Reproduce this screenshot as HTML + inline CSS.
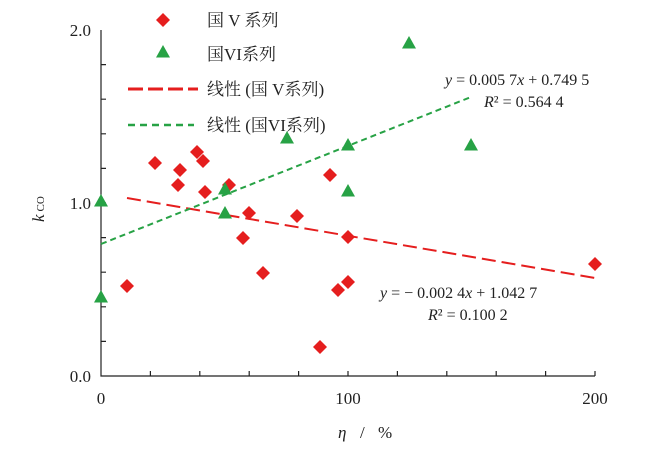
<!DOCTYPE html>
<html><head><meta charset="utf-8"><style>body{margin:0;background:#fff}svg{display:block}text{font-family:"Liberation Serif","Noto Serif CJK SC",serif;fill:#222}</style></head><body>
<svg width="656" height="451" viewBox="0 0 656 451">
<g stroke="#222" stroke-width="1.2" fill="none">
<path d="M101,30V376H595"/>
<path d="M101,64.6h5M101,99.2h5M101,133.8h5M101,168.4h5M101,203h5M101,237.6h5M101,272.2h5M101,306.8h5M101,341.4h5"/>
<path d="M150.4,376v-5M199.8,376v-5M249.2,376v-5M298.6,376v-5M348,376v-5M397.4,376v-5M446.8,376v-5M496.2,376v-5M545.6,376v-5M595,376v-5"/>
</g>
<g font-size="17">
<text x="91" y="36" text-anchor="end">2.0</text>
<text x="91" y="209" text-anchor="end">1.0</text>
<text x="91" y="382" text-anchor="end">0.0</text>
<text x="101" y="404" text-anchor="middle">0</text>
<text x="348" y="404" text-anchor="middle">100</text>
<text x="595" y="404" text-anchor="middle">200</text>
<text x="338" y="438" font-style="italic">η</text><text x="360" y="438">/</text><text x="378" y="438">%</text>
<text transform="translate(44,222) rotate(-90)"><tspan font-style="italic">k</tspan><tspan font-size="11" dx="3">CO</tspan></text>
<text x="207" y="26">国 V 系列</text>
<text x="207" y="60">国VI系列</text>
<text x="207" y="95">线性 (国 V系列)</text>
<text x="207" y="131">线性 (国VI系列)</text>
<text x="445" y="85" font-size="16"><tspan font-style="italic">y</tspan> = 0.005 7<tspan font-style="italic">x</tspan> + 0.749 5</text>
<text x="484" y="107" font-size="16"><tspan font-style="italic">R</tspan>² = 0.564 4</text>
<text x="380" y="298" font-size="16"><tspan font-style="italic">y</tspan> = − 0.002 4<tspan font-style="italic">x</tspan> + 1.042 7</text>
<text x="428" y="320" font-size="16"><tspan font-style="italic">R</tspan>² = 0.100 2</text>
</g>
<path d="M127,198L595,278" stroke="#e51e1e" stroke-width="2" stroke-dasharray="14,6"/>
<path d="M101,244L471,97" stroke="#27a245" stroke-width="2" stroke-dasharray="6,4"/>
<path d="M128,89H198" stroke="#e51e1e" stroke-width="3" stroke-dasharray="15,5"/>
<path d="M128,125H194" stroke="#27a245" stroke-width="2.5" stroke-dasharray="7,5"/>
<defs><path id="d" d="M0,-7L7,0L0,7L-7,0Z" fill="#e51e1e"/><path id="t" d="M0,-7L7,5.5L-7,5.5Z" fill="#27a245"/></defs>
<use href="#d" x="163" y="20"/><use href="#t" x="163" y="52"/>
<g>
<use href="#d" x="127" y="286"/><use href="#d" x="155" y="163"/><use href="#d" x="180" y="170"/><use href="#d" x="178" y="185"/><use href="#d" x="197" y="152"/><use href="#d" x="203" y="161"/><use href="#d" x="205" y="192"/><use href="#d" x="229" y="185"/><use href="#d" x="249" y="213"/><use href="#d" x="243" y="238"/><use href="#d" x="263" y="273"/><use href="#d" x="297" y="216"/><use href="#d" x="330" y="175"/><use href="#d" x="320" y="347"/><use href="#d" x="338" y="290"/><use href="#d" x="348" y="237"/><use href="#d" x="348" y="282"/><use href="#d" x="595" y="264"/>
<use href="#t" x="101" y="201"/><use href="#t" x="101" y="297"/><use href="#t" x="225" y="189"/><use href="#t" x="225" y="213"/><use href="#t" x="287" y="138"/><use href="#t" x="348" y="145"/><use href="#t" x="348" y="191"/><use href="#t" x="409" y="43"/><use href="#t" x="471" y="145"/>
</g>
</svg>
</body></html>
